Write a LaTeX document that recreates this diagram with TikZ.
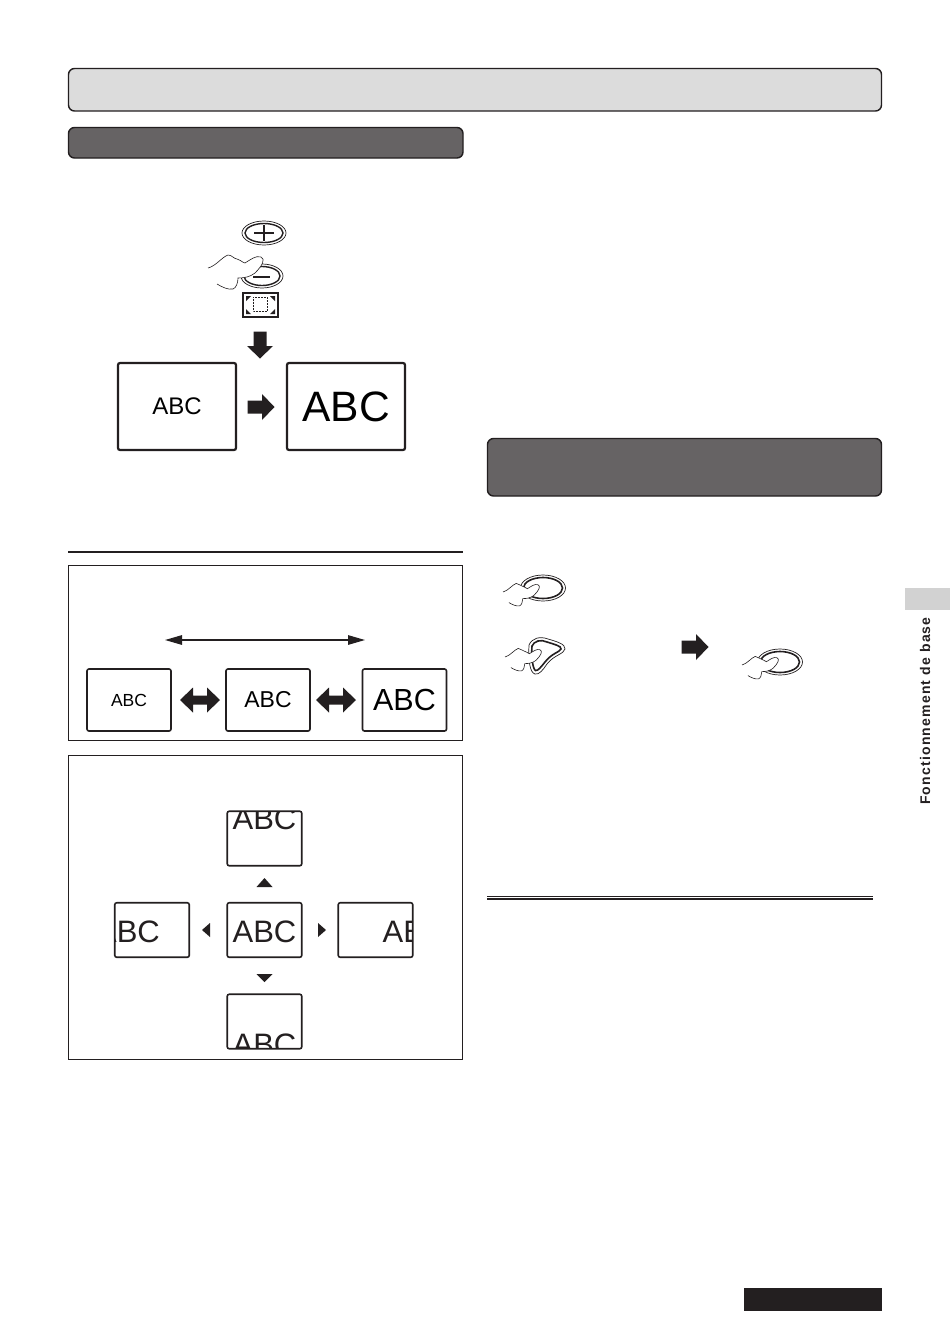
\documentclass[tikz,border=0pt]{standalone}
\usepackage{fontspec}
\setmainfont{Liberation Sans}
\newfontfamily\sidefont[LetterSpace=8.5]{Liberation Sans}
\usetikzlibrary{arrows.meta}
\definecolor{headgray}{HTML}{666364}
\definecolor{lightgray}{HTML}{DCDCDC}
\definecolor{tabgray}{HTML}{D2D2D2}
\definecolor{inkblack}{HTML}{231F20}
\tikzset{
  x=1pt,y=-1pt,
  header/.style={draw=inkblack,line width=1.4pt,rounded corners=6pt},
  panel/.style={draw=inkblack,line width=.8pt},
  screenbox/.style={draw=inkblack,line width=1.6pt,rounded corners=2pt,inner sep=0pt,align=center},
  bigscreen/.style={screenbox,line width=2.2pt,minimum width=118pt,minimum height=87pt},
  smallscreen/.style={screenbox,minimum width=84pt,minimum height=62pt},
  moved/.style={screenbox,minimum width=74.5pt,minimum height=54.5pt},
  shifted/.style args={#1 and #2}{moved,path picture={
      \node[font=\fontsize{31}{32}\selectfont,inner sep=0pt,text=inkblack] at ([shift={(#1,#2)}]path picture bounding box.center) {ABC};}},
  blockpic/.pic={
    \fill[inkblack] (-13.5,-6.5) -- (1,-6.5) -- (1,-13) -- (13.5,0) -- (1,13) -- (1,6.5) -- (-13.5,6.5) -- cycle;
  },
  bothpic/.pic={
    \fill[inkblack] (-20,0) -- (-7,-12.5) -- (-7,-4.5) -- (7,-4.5) -- (7,-12.5) -- (20,0) -- (7,12.5) -- (7,4.5) -- (-7,4.5) -- (-7,12.5) -- cycle;
  },
  handpic/.pic={
    \draw[inkblack,fill=white,line width=.6pt] (0,0) .. controls (8,-2) and (14,-11) .. (20,-13)
      .. controls (24,-13) and (26,-9) .. (29,-9) .. controls (32,-9) and (33,-6) .. (37,-5)
      .. controls (42,-8) and (48,-13) .. (53,-11) .. controls (58,-9) and (54,-2) .. (47,5)
      .. controls (42,9) and (36,10) .. (30,10) .. controls (30,15) and (28,20) .. (25,21)
      .. controls (20,22) and (14,19) .. (9,16);
  },
  ovalpic/.pic={
    \draw[inkblack,line width=.7pt] (0,0) ellipse [x radius=22.5,y radius=13];
    \draw[inkblack,line width=1.6pt] (0,0) ellipse [x radius=19.5,y radius=10.5];
  }
}
\begin{document}
\begin{tikzpicture}
      \useasboundingbox (0,0) rectangle (950,1344);
      \fill[white] (0,0) rectangle (950,1344);
      \draw[header,fill=lightgray] (68.5,68.5) rectangle (881.5,111);
      \draw[header,fill=headgray] (68.5,127.5) rectangle (463,158);
      \draw[header,fill=headgray] (487.5,438.5) rectangle (881.5,496);
      \draw[inkblack,line width=1.8pt] (68,552) -- (463,552);
      \draw[panel] (68.5,565.5) rectangle (462.5,740.5);
      \draw[panel] (68.5,755.5) rectangle (462.5,1059.5);
      \draw[inkblack,line width=1pt] (487,896.5) -- (873,896.5);
      \draw[inkblack,line width=1.1pt] (487,899) -- (873,899);
      \fill[tabgray] (905,588) rectangle (950,610);
      \fill[inkblack] (744,1288) rectangle (882,1311);
      \node[rotate=90,font=\sidefont\fontsize{14}{14}\bfseries\selectfont,text=inkblack,inner sep=0pt] (sidelabel) at (925,711) {Fonctionnement de base};

      \draw[inkblack,line width=.7pt] (264,233) ellipse [x radius=22,y radius=12];
      \draw[inkblack,line width=1.4pt] (264,233) ellipse [x radius=19,y radius=9.5];
      \draw[inkblack,line width=1.4pt] (254,233) -- (274,233) (264,225) -- (264,241);
      \draw[inkblack,line width=.7pt] (262,276) ellipse [x radius=21,y radius=12];
      \draw[inkblack,line width=1.4pt] (262,276) ellipse [x radius=18,y radius=9.5];
      \pic at (208,268) {handpic};
      \draw[inkblack,line width=1.6pt] (253,277) -- (270,277);
      \draw[inkblack,line width=1.4pt] (243,293) rectangle (278,317);
      \draw[inkblack,line width=.5pt,densely dotted] (253,297) rectangle (267,311);
      \fill[inkblack] (246,296) -- (251,296) -- (246,301) -- cycle (275,296) -- (270,296) -- (275,301) -- cycle
        (246,314) -- (251,314) -- (246,309) -- cycle (275,314) -- (270,314) -- (275,309) -- cycle;

      \pic[rotate=-90] at (260,345) {blockpic};
      \node[bigscreen,font=\fontsize{24}{24}\selectfont] (smallabc) at (177,406.5) {ABC};
      \node[bigscreen,font=\fontsize{42.5}{43}\selectfont] (bigabc) at (346,406.5) {ABC};
      \pic at (261,407) {blockpic};

      \coordinate (rangeleft) at (165,640);
      \coordinate (rangeright) at (365,640);
      \draw[{Triangle[length=17pt,width=9.5pt]}-{Triangle[length=17pt,width=9.5pt]},inkblack,line width=1.3pt] (rangeleft) -- (rangeright);
      \node[smallscreen,font=\fontsize{17.5}{17}\selectfont] (panelone) at (129,700) {ABC};
      \node[smallscreen,font=\fontsize{23}{23}\selectfont] (paneltwo) at (268,700) {ABC};
      \node[smallscreen,font=\fontsize{30.5}{30}\selectfont] (panelthree) at (404.5,700) {ABC};
      \pic at (200,700) {bothpic};
      \pic at (336,700) {bothpic};

      \node[shifted={0 and 1.5}] (centre) at (264.5,930) {};
      \node[shifted={0 and -20}] (upscreen) at (264.5,838.5) {};
      \node[shifted={0 and 23}] (downscreen) at (264.5,1021.5) {};
      \node[shifted={-24 and 1.5}] (leftscreen) at (152,930) {};
      \node[shifted={39 and 1.5}] (rightscreen) at (375.5,930) {};
      \fill[inkblack] (256.5,887) -- (272.5,887) -- (264.5,878) -- cycle;
      \fill[inkblack] (256.5,974) -- (272.5,974) -- (264.5,982) -- cycle;
      \fill[inkblack] (210,923) -- (210,937) -- (202,930) -- cycle;
      \fill[inkblack] (318,923) -- (318,937) -- (326,930) -- cycle;

      \pic at (543,588) {ovalpic};
      \pic[scale=.66] at (503,592) {handpic};
      \draw[inkblack,line width=.7pt] (529,645) .. controls (532,638) and (540,636) .. (548,639)
        .. controls (555,641) and (566,644) .. (565,649) .. controls (564,654) and (554,655) .. (547,664)
        .. controls (543,670) and (539,675) .. (535,674) .. controls (530,673) and (528,660) .. cycle;
      \draw[inkblack,line width=1.6pt] (532,646) .. controls (534,641) and (541,639) .. (547,642)
        .. controls (553,644) and (562,646) .. (561,649) .. controls (560,652) and (552,653) .. (545,662)
        .. controls (541,667) and (538,671) .. (535.5,670.5) .. controls (533,669) and (531,658) .. cycle;
      \pic[scale=.66] at (505,657) {handpic};
      \pic at (695,647) {blockpic};
      \pic at (780,662) {ovalpic};
      \pic[scale=.66] at (742,665) {handpic};
\end{tikzpicture}
\end{document}
